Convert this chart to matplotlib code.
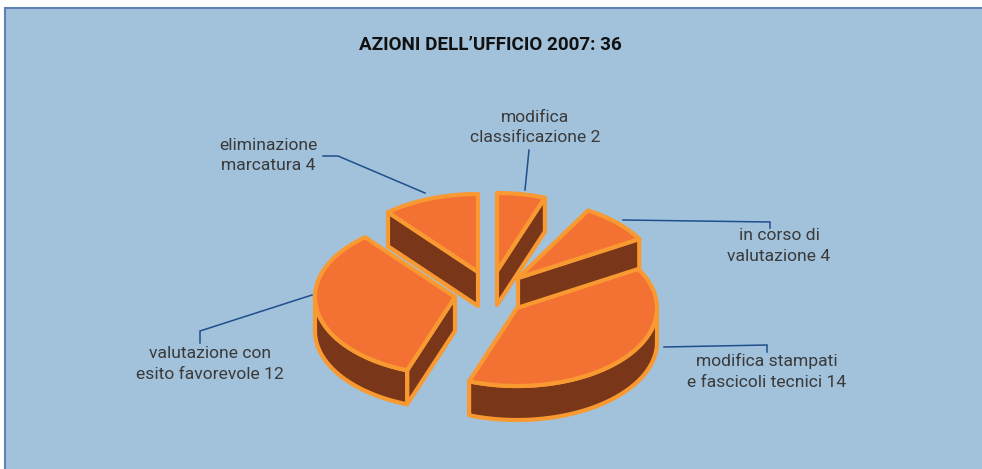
#!/usr/bin/env python3
# -*- coding: utf-8 -*-
import numpy as np
import matplotlib
matplotlib.use("Agg")
import matplotlib.pyplot as plt
from matplotlib.patches import Polygon, Rectangle

# Dati
titolo = "AZIONI DELL\u2019UFFICIO 2007: 36"
categorie = ["modifica stampati\ne fascicoli tecnici", "valutazione con\nesito favorevole",
             "eliminazione\nmarcatura", "modifica\nclassificazione", "in corso di\nvalutazione"]
valori = [14, 12, 4, 2, 4]
# ampiezza delle fette come disegnate (gradi): "in corso" e' piu' stretta del suo valore
ampiezze = [140, 120, 40, 20, 30]

# Geometria (pixel)
A, B = 140, 78  # semiassi
H = 34  # spessore
START = 30
VERTICI = [(517, 308), (455, 297), (478, 272), (497, 271), (518, 278)]
POS_TESTO = [(767, 371.5), (210, 364), (268, 155.5), (535, 127.5), (779, 246)]
LEADER = [[(664, 347), (767, 345), (767, 352)],
          [(312, 295), (200, 331), (200, 343)],
          [(323, 156), (338, 156), (425, 193)],
          [(529, 150), (525, 190)],
          [(623, 220), (770, 222), (770, 228)]]

SFONDO = "#A2C2DC"
BORDO = "#5F82B4"
TOP = "#F37133"
LATO = "#7A3618"
TRATTO = "#F89A31"
BLU = "#1F4E8C"
TESTO = "#3A3A3A"

fig = plt.figure(figsize=(9.82, 4.69), dpi=100, facecolor="white")
ax = fig.add_axes([0, 0, 1, 1])
ax.set_xlim(0, 982)
ax.set_ylim(469, 0)
ax.axis("off")

ax.add_patch(Rectangle((5, 8.5), 1000, 500, fc=SFONDO, ec=BORDO, lw=1.5))


def punti(c, t):
    t = np.radians(t)
    return np.column_stack((c[0] + A * np.cos(t), c[1] - B * np.sin(t)))


def fetta(c, t1, t2):
    kw = dict(lw=3.0, ec=TRATTO, joinstyle="round")
    giu = np.array([0, H])
    # facce radiali visibili
    for t, normale in ((t1, t1 - 90), (t2, t2 + 90)):
        if np.sin(np.radians(normale)) < -1e-6:
            p = punti(c, [t])[0]
            ax.add_patch(Polygon([c, p, p + giu, np.array(c) + giu], fc=LATO, **kw))
    # bordo esterno anteriore
    angoli = np.linspace(t1, t2, 200)
    angoli = angoli[np.sin(np.radians(angoli)) < 0]
    if len(angoli):
        arco = punti(c, angoli)
        ax.add_patch(Polygon(np.vstack((arco, arco[::-1] + giu)), fc=LATO, **kw))
    # faccia superiore
    sopra = punti(c, np.linspace(t1, t2, 200))
    ax.add_patch(Polygon(np.vstack(([c], sopra)), fc=TOP, **kw))


# le fette girano in senso orario a partire da START
t_fette = []
t = START
for a in ampiezze[:-1]:
    t_fette.append((t - a, t))
    t -= a
# "in corso" parte da 30 e arriva a 60, resta uno spazio fino a 70
t_fette.append((START, START + ampiezze[-1]))

for i in [2, 3, 4, 1, 0]:
    fetta(VERTICI[i], *t_fette[i])

for linea in LEADER:
    xs, ys = zip(*linea)
    ax.plot(xs, ys, color=BLU, lw=1.1, solid_joinstyle="miter")

for cat, v, (x, y) in zip(categorie, valori, POS_TESTO):
    ax.text(x, y, f"{cat} {v}", ha="center", va="center", fontsize=12.6, family="Roboto",
            color=TESTO, linespacing=1.45)

ax.text(490, 45, titolo, ha="center", va="center", fontsize=13.6, family="Roboto",
        fontweight="bold", color="#111111")

fig.savefig("out.png", dpi=100)
